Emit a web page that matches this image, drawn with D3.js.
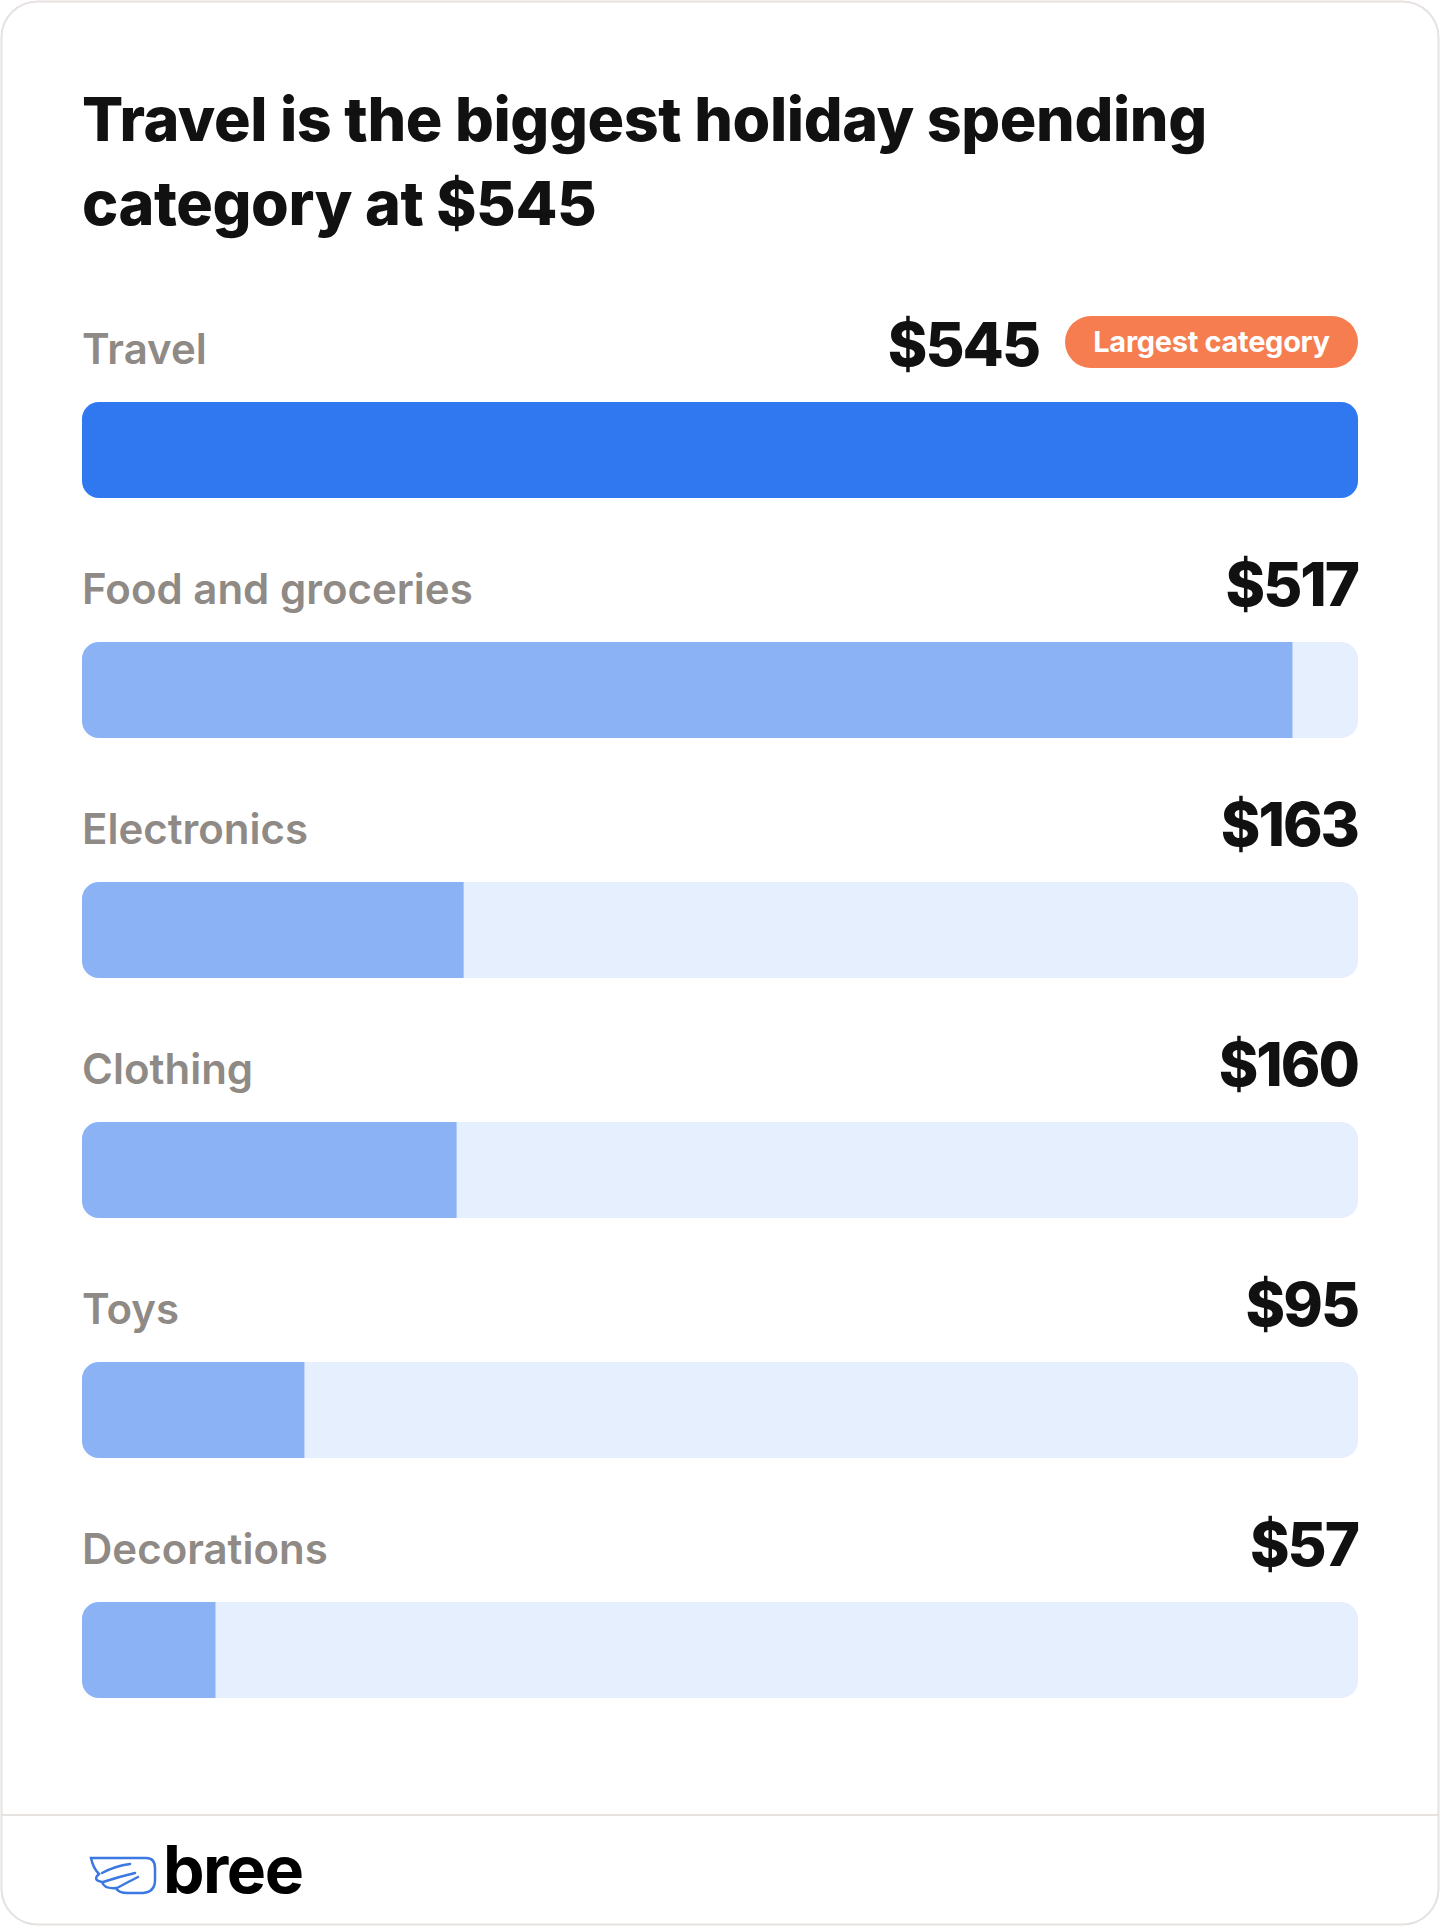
<!DOCTYPE html>
<html><head><meta charset="utf-8">
<script src="https://cdn.jsdelivr.net/npm/d3@7"></script>
<style>body{margin:0;background:#fff}svg{display:block}</style>
</head><body><svg id="c" width="1440" height="1926"></svg>
<script>
const categories = ["Travel","Food and groceries","Electronics","Clothing","Toys","Decorations"];
const values = [545,517,163,160,95,57];
const valueLabels = ["$545","$517","$163","$160","$95","$57"];
const titleLines = ["Travel is the biggest holiday spending","category at $545"];
const badgeText = "Largest category";

const svg = d3.select("#c");
const F = "Inter, 'Open Sans', sans-serif";
svg.append("rect").attr("x",1.5).attr("y",1.5).attr("width",1437).attr("height",1923).attr("rx",36)
  .attr("fill","#fff").attr("stroke","#e6e2e0").attr("stroke-width",2);
svg.append("line").attr("x1",2).attr("x2",1438).attr("y1",1815).attr("y2",1815).attr("stroke","#e6e2e0").attr("stroke-width",2);

svg.selectAll("text.t").data(titleLines).join("text").attr("x",82).attr("y",(d,i)=>141+i*84)
  .attr("font-family",F).attr("font-weight",800).attr("font-size",61).attr("letter-spacing",-0.4).attr("fill","#111").text(d=>d);

const x = d3.scaleLinear().domain([0,545]).range([82,1358]);
const rowY = d3.scaleLinear().domain([0,1]).range([402,642]);
const H = 96, R = 17;
const defs = svg.append("defs");
categories.forEach((c,i)=>{
  const y = rowY(i);
  defs.append("clipPath").attr("id","cl"+i).append("rect").attr("x",x(0)).attr("y",y).attr("width",x(545)-x(0)).attr("height",H).attr("rx",R);
  svg.append("rect").attr("x",x(0)).attr("y",y).attr("width",x(545)-x(0)).attr("height",H).attr("rx",R).attr("fill","#e6effd");
  svg.append("rect").attr("clip-path",`url(#cl${i})`).attr("x",x(0)).attr("y",y).attr("width",x(values[i])-x(0)).attr("height",H)
    .attr("fill", i===0?"#2f78f0":"#8ab2f5");
  svg.append("text").attr("x",82).attr("y",y-38).attr("font-family",F).attr("font-weight",600).attr("font-size",42)
    .attr("letter-spacing",0).attr("fill","#8f8a85").text(c);
  let vx = 1358;
  if(i===0){
    const bw=293, bx=1358-bw;
    svg.append("rect").attr("x",bx).attr("y",316).attr("width",bw).attr("height",52).attr("rx",26).attr("fill","#f57d50");
    svg.append("text").attr("x",bx+bw/2).attr("y",352).attr("text-anchor","middle").attr("font-family",F).attr("font-weight",700)
      .attr("font-size",29).attr("letter-spacing",-0.3).attr("fill","#fff").text(badgeText);
    vx = bx-26;
  }
  svg.append("text").attr("x",vx).attr("y",y-36).attr("text-anchor","end").attr("font-family",F).attr("font-weight",800)
    .attr("font-size",60).attr("letter-spacing",-2).attr("fill","#111").text(valueLabels[i]);
});

// logo
const g = svg.append("g").attr("fill","none").attr("stroke","#3b78e0").attr("stroke-width",2.5).attr("stroke-linecap","round");
g.append("path").attr("d","M91,1858 L146,1858 Q155,1858 155,1868 L155,1880 Q155,1892 143,1893 L128,1893 Q118,1893 116,1888 Q104,1889 102,1882 Q92,1880 99,1874 Q93,1868 91,1858 Z");
g.append("path").attr("d","M102,1873 Q115,1866 130,1864");
g.append("path").attr("d","M103,1882 Q118,1877 135,1873");
g.append("path").attr("d","M117,1888 Q128,1882 138,1877");
svg.append("text").attr("x",163).attr("y",1893).attr("font-family",F).attr("font-weight",700).attr("font-size",66)
  .attr("letter-spacing",-1.5).attr("fill","#000").text("bree");
</script></body></html>
